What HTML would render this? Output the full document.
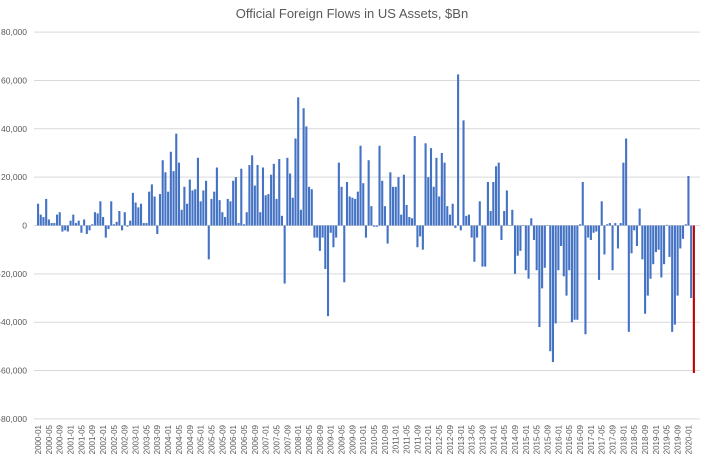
<!DOCTYPE html>
<html><head><meta charset="utf-8"><style>body{margin:0;background:#fff}svg{display:block}</style></head>
<body>
<svg id="c" width="705" height="462" xmlns="http://www.w3.org/2000/svg" font-family="Liberation Sans, sans-serif">
<text x="352" y="18" font-size="13" fill="#595959" text-anchor="middle">Official Foreign Flows in US Assets, $Bn</text>
<g id="g"></g>
</svg>
<script>
const A=[9,4.5,3.5,11,2.5,1,1,4.5,5.5,-2.5,-2,-2.5,
2,4.5,1,2,-3,2.5,-3.5,-2,0.5,5.5,5,10,
3.5,-5,-1.5,10,0.5,1.5,6,-2,5.5,-0.5,2,13.5,
9.5,7.5,9,1,1,14,17,12,-3.5,13,27,22,
14,30.5,22.5,38,26,6.5,16,9,19,14.5,15,28,
10,14.5,18.5,-14,11,14,24,10.5,5.5,3.5,11,10,
18.5,20,1,23.5,0.5,5.5,25,29,16.5,25,5.5,24,
12.5,13,21,25.5,11,27.5,4,-24,28,21.5,11.5,36,
53,6.5,48.5,41,16,15,-5,-5,-10.5,-5,-18,-37.5,
-3,-9,-5,26,16,-23.5,18,12,11.5,11,14,33,
17.5,-5,27,8,-0.5,-0.5,33,18.5,8,-7.5,22,16,
16,20,4.5,21,8.5,3.5,3,37,-9,-4.5,-10,34,
20,32,16,28,12,30,26,8,4.5,9,-1,62.5,
-2,43.5,4,4.5,-5,-15,-5,10,
-17,-17,18,6,18,24.5,26,-6,6,14.5,
0,6.5,-20,-12.5,-10.5,0,-18.5,-22,3,-6,
-18.5,-42,-26,-17.5,0,-52,-56.5,-40.5,-18.5,-8.5,
-21,-29,-18.5,-40,-39,-39,0.5,18,-45,-5,
-6,-3,-2.5,-22.5,10,-12,0.5,1,-18.5,1,
-9.5,1,26,36,-44,-11.5,-2,-8.5,7,
-14,-36.5,-29,-22,-16,-11,-10,-21.5,-16,0.3,
-13,-44,-41,-29,-9.5,-5.5,0.5,20.5,-30,-61];
const g=document.getElementById('g');let s='';
const y0=225.5,k=48.35/20;
for(let v=80;v>=-80;v-=20){const y=y0-v*k;
s+=`<line x1="34" x2="700" y1="${y}" y2="${y}" stroke="#d9d9d9" stroke-width="1"/>`;
s+=`<text x="27" y="${y+3}" font-size="8.5" fill="#595959" text-anchor="end">${v==0?'0':(v<0?'-':'')+Math.abs(v)+',000'}</text>`;}
A.forEach((v,i)=>{const x=37+2.71*i;const h=Math.abs(v)*k;const y=v>=0?y0-h:y0;
const red=i==A.length-1;
s+=`<rect x="${x}" y="${y}" width="2.1" height="${Math.max(h,0.5)}" fill="${red?'#C00000':'#4472C4'}"/>`;});
for(let i=0;i<=240;i+=4){const x=38+2.71*i+3;const yr=2000+Math.floor(i/12),m=i%12+1;
s+=`<text transform="translate(${x},425) rotate(-90)" font-size="8" fill="#595959" text-anchor="end">${yr}-${String(m).padStart(2,'0')}</text>`;}
g.innerHTML=s;
</script>
</body></html>
